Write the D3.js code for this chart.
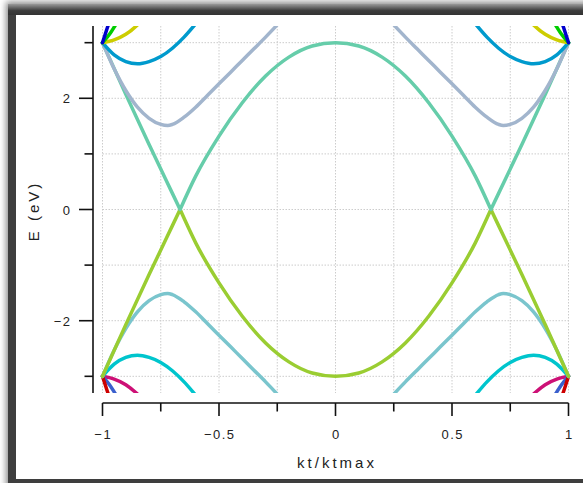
<!DOCTYPE html>
<html>
<head>
<meta charset="utf-8">
<script src="https://cdn.jsdelivr.net/npm/d3@7"></script>
<style>
    body { margin: 0; background: #ffffff; }
    text { font-family: "Liberation Sans", Arial, Helvetica, sans-serif; fill: #222; }
    .tick_label { font-size: 13px; letter-spacing: 1.5px; }
    .axis_title { font-size: 15px; letter-spacing: 3px; }
    .grid { stroke: #cccccc; stroke-width: 1; stroke-dasharray: 1.5,1.5; }
    .axis_line { stroke: #111; stroke-width: 1.6; fill: none; }
    .band { fill: none; stroke-width: 3.5; stroke-linecap: round; stroke-linejoin: round; }
</style>
</head>
<body>
<svg width="583" height="483"></svg>
<script>

/*****************************************
*   Data
*****************************************/

// tick values
const X_TICKS = [-1, -0.75, -0.5, -0.25, 0, 0.25, 0.5, 0.75, 1];
const X_LABELS = ['\u22121', '', '\u22120.5', '', '0', '', '0.5', '', '1'];
const Y_TICKS = [-3, -2, -1, 0, 1, 2, 3];
const Y_LABELS = ['', '\u22122', '', '0', '', '2', ''];

// middle bands (null splits the line at the crossings)
const K_MID = [-1, -0.9, -0.8, -0.7, -0.667, null,
    -0.667, -0.6, -0.5, -0.4, -0.3, -0.2, -0.1, 0, 0.1, 0.2, 0.3, 0.4, 0.5, 0.6, 0.667, null,
    0.667, 0.7, 0.8, 0.9, 1];
const E_AQUAMARINE = [3, 2.07, 1.17, 0.29, 0, null,
    0, 0.60, 1.32, 1.92, 2.40, 2.74, 2.94, 3, 2.94, 2.74, 2.40, 1.92, 1.32, 0.60, 0, null,
    0, 0.29, 1.17, 2.07, 3];
const E_OLIVEDRAB = [-3, -2.07, -1.17, -0.29, 0, null,
    0, -0.60, -1.32, -1.92, -2.40, -2.74, -2.94, -3, -2.94, -2.74, -2.40, -1.92, -1.32, -0.60, 0, null,
    0, -0.29, -1.17, -2.07, -3];

// second pair
const K_STEEL = [-1, -0.95, -0.9, -0.85, -0.8, -0.75, -0.72, -0.7, -0.65, -0.6, -0.55, -0.5, -0.45, -0.4, -0.35, -0.3, -0.25, null,
    0.25, 0.3, 0.35, 0.4, 0.45, 0.5, 0.55, 0.6, 0.65, 0.7, 0.72, 0.75, 0.8, 0.85, 0.9, 0.95, 1];
const E_STEELBLUE = [3, 2.53, 2.14, 1.84, 1.64, 1.53, 1.51, 1.53, 1.66, 1.84, 2.05, 2.26, 2.47, 2.68, 2.89, 3.10, 3.32, null,
    3.32, 3.10, 2.89, 2.68, 2.47, 2.26, 2.05, 1.84, 1.66, 1.53, 1.51, 1.53, 1.64, 1.84, 2.14, 2.53, 3];
const E_CADETBLUE = [-3, -2.53, -2.14, -1.84, -1.64, -1.53, -1.51, -1.53, -1.66, -1.84, -2.05, -2.26, -2.47, -2.68, -2.89, -3.10, -3.32, null,
    -3.32, -3.10, -2.89, -2.68, -2.47, -2.26, -2.05, -1.84, -1.66, -1.53, -1.51, -1.53, -1.64, -1.84, -2.14, -2.53, -3];

// third pair
const K_SKY = [-1, -0.95, -0.9, -0.85, -0.8, -0.75, -0.7, -0.65, -0.6, null,
    0.6, 0.65, 0.7, 0.75, 0.8, 0.85, 0.9, 0.95, 1];
const E_DEEPSKY = [3, 2.78, 2.66, 2.62, 2.66, 2.75, 2.90, 3.10, 3.34, null,
    3.34, 3.10, 2.90, 2.75, 2.66, 2.62, 2.66, 2.78, 3];
const E_TURQUOISE = [-3, -2.78, -2.66, -2.62, -2.66, -2.75, -2.90, -3.10, -3.34, null,
    -3.34, -3.10, -2.90, -2.75, -2.66, -2.62, -2.66, -2.78, -3];

// short bands near the zone edge
const K_EDGE3 = [-1, -0.95, -0.9, -0.85, -0.8, null, 0.8, 0.85, 0.9, 0.95, 1];
const E_YELLOW = [3, 3.05, 3.15, 3.32, 3.55, null, 3.55, 3.32, 3.15, 3.05, 3];
const E_DEEPPINK = [-3, -3.05, -3.15, -3.32, -3.55, null, -3.55, -3.32, -3.15, -3.05, -3];

const K_EDGE2 = [-1, -0.97, -0.95, -0.93, -0.9, null, 0.9, 0.93, 0.95, 0.97, 1];
const E_GREEN = [3, 3.15, 3.28, 3.42, 3.7, null, 3.7, 3.42, 3.28, 3.15, 3];
const E_ROYALBLUE = [-3, -3.15, -3.28, -3.42, -3.7, null, -3.7, -3.42, -3.28, -3.15, -3];

const K_EDGE1 = [-1, -0.99, -0.98, -0.97, -0.95, null, 0.95, 0.97, 0.98, 0.99, 1];
const E_BLUE = [3, 3.13, 3.26, 3.38, 3.65, null, 3.65, 3.38, 3.26, 3.13, 3];
const E_RED = [-3, -3.13, -3.26, -3.38, -3.65, null, -3.65, -3.38, -3.26, -3.13, -3];

const BANDS = [
    {k: K_EDGE3, e: E_DEEPPINK, color: '#CD1076'},
    {k: K_EDGE2, e: E_ROYALBLUE, color: '#3A5FCD'},
    {k: K_EDGE1, e: E_RED, color: '#CD0000'},
    {k: K_SKY, e: E_TURQUOISE, color: '#00C5CD'},
    {k: K_STEEL, e: E_CADETBLUE, color: '#7AC5CD'},
    {k: K_MID, e: E_OLIVEDRAB, color: '#9ACD32'},
    {k: K_MID, e: E_AQUAMARINE, color: '#66CDAA'},
    {k: K_STEEL, e: E_STEELBLUE, color: '#A2B5CD'},
    {k: K_SKY, e: E_DEEPSKY, color: '#009ACD'},
    {k: K_EDGE3, e: E_YELLOW, color: '#CDCD00'},
    {k: K_EDGE2, e: E_GREEN, color: '#00CD00'},
    {k: K_EDGE1, e: E_BLUE, color: '#0000CD'}
];

/*****************************************
*   Layout
*****************************************/

const SVG_WIDTH = 583;
const SVG_HEIGHT = 483;
const PLOT_LEFT = 102.5;
const PLOT_RIGHT = 568.5;
const PLOT_TOP = 26;
const PLOT_BOTTOM = 393;
const Y_AXIS_X = 93;
const X_AXIS_Y = 403;
const E_LIMIT = 3.3;

var svg = d3.select('svg');
var xScale = d3.scaleLinear().domain([-1, 1]).range([PLOT_LEFT, PLOT_RIGHT]);
var yScale = d3.scaleLinear().domain([-E_LIMIT, E_LIMIT]).range([PLOT_BOTTOM, PLOT_TOP]);

/*****************************************
*   Frame
*****************************************/

function draw_frame() {
    var defs = svg.append('defs');
    defs.append('filter')
        .attr('id', 'shadow')
        .attr('x', '-5%').attr('y', '-5%')
        .attr('width', '110%').attr('height', '110%')
        .append('feGaussianBlur')
        .attr('stdDeviation', 3);
    var grad = defs.append('linearGradient')
        .attr('id', 'topband')
        .attr('x1', 0).attr('y1', 0).attr('x2', 0).attr('y2', 1);
    grad.append('stop').attr('offset', '0%').attr('stop-color', '#9a9a9a');
    grad.append('stop').attr('offset', '60%').attr('stop-color', '#3c3c3c');
    grad.append('stop').attr('offset', '100%').attr('stop-color', '#333');
    defs.append('clipPath')
        .attr('id', 'plotclip')
        .append('rect')
        .attr('x', PLOT_LEFT - 3).attr('y', PLOT_TOP)
        .attr('width', PLOT_RIGHT - PLOT_LEFT + 6)
        .attr('height', PLOT_BOTTOM - PLOT_TOP);

    svg.append('rect')
        .attr('width', SVG_WIDTH).attr('height', SVG_HEIGHT)
        .attr('fill', '#fff');
    svg.append('rect')
        .attr('x', 6).attr('y', 2).attr('width', 640).attr('height', 520)
        .attr('fill', '#8a8a8a')
        .attr('filter', 'url(#shadow)');
    svg.append('rect')
        .attr('x', 8).attr('y', 4).attr('width', 640).attr('height', 520)
        .attr('fill', '#3e3e3e');
    svg.append('rect')
        .attr('x', 8).attr('y', 4).attr('width', 640).attr('height', 11)
        .attr('fill', 'url(#topband)');
    svg.append('rect')
        .attr('x', 16).attr('y', 15).attr('width', 620).attr('height', 464)
        .attr('fill', '#fff');
}

/*****************************************
*   Grid and axes
*****************************************/

function draw_grid() {
    svg.append('g')
        .selectAll('line')
        .data(X_TICKS)
        .enter()
          .append('line')
          .attr('class', 'grid')
          .attr('x1', d => xScale(d)).attr('x2', d => xScale(d))
          .attr('y1', PLOT_TOP).attr('y2', PLOT_BOTTOM);
    svg.append('g')
        .selectAll('line')
        .data(Y_TICKS)
        .enter()
          .append('line')
          .attr('class', 'grid')
          .attr('x1', PLOT_LEFT).attr('x2', PLOT_RIGHT)
          .attr('y1', d => yScale(d)).attr('y2', d => yScale(d));
}

function build_xaxis() {
    var g = svg.append('g').attr('id', 'xaxis');
    g.append('line')
        .attr('class', 'axis_line')
        .attr('x1', xScale(-1)).attr('x2', xScale(1))
        .attr('y1', X_AXIS_Y).attr('y2', X_AXIS_Y);
    g.selectAll('.tick')
        .data(X_TICKS)
        .enter()
          .append('line')
          .attr('class', 'axis_line')
          .attr('x1', d => xScale(d)).attr('x2', d => xScale(d))
          .attr('y1', X_AXIS_Y)
          .attr('y2', (d, i) => X_AXIS_Y + (X_LABELS[i] ? 13 : 8.5));
    g.selectAll('text')
        .data(X_TICKS)
        .enter()
          .append('text')
          .attr('class', 'tick_label')
          .attr('x', d => xScale(d) + 0.75)
          .attr('y', 439)
          .attr('text-anchor', 'middle')
          .text((d, i) => X_LABELS[i]);
    svg.append('text')
        .attr('class', 'axis_title')
        .attr('x', xScale(0) + 1.5)
        .attr('y', 468)
        .attr('text-anchor', 'middle')
        .text('kt/ktmax');
}

function build_yaxis() {
    var g = svg.append('g').attr('id', 'yaxis');
    g.append('line')
        .attr('class', 'axis_line')
        .attr('x1', Y_AXIS_X).attr('x2', Y_AXIS_X)
        .attr('y1', PLOT_TOP).attr('y2', PLOT_BOTTOM);
    g.selectAll('.tick')
        .data(Y_TICKS)
        .enter()
          .append('line')
          .attr('class', 'axis_line')
          .attr('y1', d => yScale(d)).attr('y2', d => yScale(d))
          .attr('x1', Y_AXIS_X)
          .attr('x2', (d, i) => Y_AXIS_X - (Y_LABELS[i] ? 14 : 8.5));
    g.selectAll('text')
        .data(Y_TICKS)
        .enter()
          .append('text')
          .attr('class', 'tick_label')
          .attr('x', 71.5)
          .attr('y', d => yScale(d) + 5)
          .attr('text-anchor', 'end')
          .text((d, i) => Y_LABELS[i]);
    svg.append('text')
        .attr('class', 'axis_title')
        .attr('transform', 'translate(39,' + (yScale(0) + 1.5) + ') rotate(-90)')
        .attr('text-anchor', 'middle')
        .text('E (eV)');
}

/*****************************************
*   Bands
*****************************************/

function draw_bands() {
    var line = d3.line()
        .defined(d => d.e != null)
        .x(d => xScale(d.k))
        .y(d => yScale(d.e))
        .curve(d3.curveMonotoneX);
    var g = svg.append('g').attr('clip-path', 'url(#plotclip)');
    BANDS.forEach(function(b) {
        var pts = b.k.map((k, i) => ({k: k, e: b.e[i]}));
        g.append('path')
            .datum(pts)
            .attr('class', 'band')
            .attr('stroke', b.color)
            .attr('d', line);
    });
}

draw_frame();
draw_grid();
draw_bands();
build_xaxis();
build_yaxis();

</script>
</body>
</html>
